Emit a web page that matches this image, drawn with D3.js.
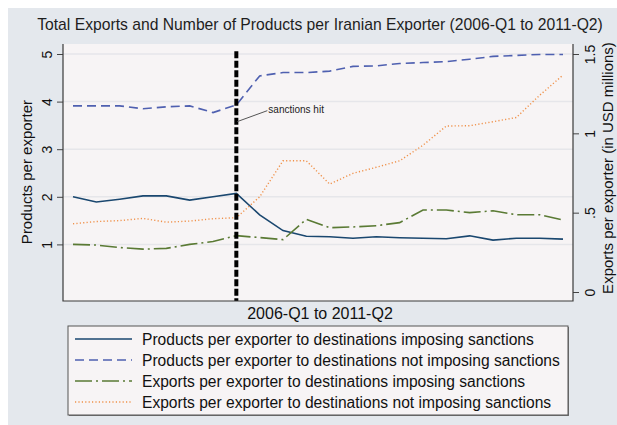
<!DOCTYPE html>
<html>
<head>
<meta charset="utf-8">
<script src="https://cdn.jsdelivr.net/npm/d3@7"></script>
<style>
  html, body { margin: 0; padding: 0; background: #ffffff; }
  svg { display: block; font-family: "Liberation Sans", Arial, sans-serif; }
</style>
</head>
<body>
<svg id="chart" width="617" height="425"></svg>
<script>
// Quarters 2006-Q1 .. 2011-Q2
const quarters = [
  "2006-Q1","2006-Q2","2006-Q3","2006-Q4",
  "2007-Q1","2007-Q2","2007-Q3","2007-Q4",
  "2008-Q1","2008-Q2","2008-Q3","2008-Q4",
  "2009-Q1","2009-Q2","2009-Q3","2009-Q4",
  "2010-Q1","2010-Q2","2010-Q3","2010-Q4",
  "2011-Q1","2011-Q2"
];

// Products per exporter (left axis)
const productsImposing = [2.00, 1.89, 1.95, 2.02, 2.02, 1.93, 2.00, 2.07, 1.62, 1.29, 1.17,
                          1.16, 1.13, 1.16, 1.14, 1.13, 1.12, 1.18, 1.09, 1.13, 1.13, 1.11];
const productsNotImposing = [3.91, 3.91, 3.91, 3.85, 3.89, 3.91, 3.77, 3.93, 4.54, 4.61, 4.61,
                             4.64, 4.74, 4.75, 4.80, 4.82, 4.84, 4.89, 4.95, 4.97, 4.99, 4.99];

// Exports per exporter, USD millions (right axis)
const exportsImposing = [0.300, 0.296, 0.280, 0.270, 0.275, 0.300, 0.318, 0.355, 0.343, 0.330, 0.458,
                         0.405, 0.410, 0.418, 0.437, 0.517, 0.517, 0.500, 0.512, 0.487, 0.487, 0.454];
const exportsNotImposing = [0.430, 0.444, 0.450, 0.464, 0.440, 0.447, 0.462, 0.468, 0.600, 0.827, 0.827,
                            0.680, 0.748, 0.786, 0.827, 0.925, 1.046, 1.048, 1.073, 1.100, 1.240, 1.367];

const leftTicks = [1, 2, 3, 4, 5];
const rightTicks = [0, 0.5, 1, 1.5];
const rightTickLabels = ["0", ".5", "1", "1.5"];
const sanctionsQuarter = "2007-Q4";

const titleText = "Total Exports and Number of Products per Iranian Exporter (2006-Q1 to 2011-Q2)";
const xTitle = "2006-Q1 to 2011-Q2";
const leftTitle = "Products per exporter";
const rightTitle = "Exports per exporter (in USD millions)";
const legendLabels = [
  "Products per exporter to destinations imposing sanctions",
  "Products per exporter to destinations not imposing sanctions",
  "Exports per exporter to destinations imposing sanctions",
  "Exports per exporter to destinations not imposing sanctions"
];

const svg = d3.select("#chart");

// layout
const box = { left: 63, right: 573, top: 44, bottom: 301 };
const x = d3.scalePoint().domain(quarters).range([73, 563]);
const yL = d3.scaleLinear().domain([0, 5]).range([292, 54]);
const yR = d3.scaleLinear().domain([0, 1.5]).range([292, 54]);

// outer graph region
svg.append("rect").attr("x", 8).attr("y", 8).attr("width", 609).attr("height", 417)
  .attr("fill", "#e4e8ed");

// plot region
svg.append("rect").attr("x", box.left).attr("y", box.top)
  .attr("width", box.right - box.left).attr("height", box.bottom - box.top)
  .attr("fill", "#f7f4f5");

// gridlines
svg.append("g").selectAll("line").data(leftTicks).join("line")
  .attr("x1", box.left).attr("x2", box.right)
  .attr("y1", d => yL(d)).attr("y2", d => yL(d))
  .attr("stroke", "#e6e6ea").attr("stroke-width", 1.5);

// series lines
const series = [
  { values: productsImposing, scale: yL, color: "#1a476f", dash: null, width: 1.6 },
  { values: productsNotImposing, scale: yL, color: "#4f60b0", dash: "9,5", width: 1.6 },
  { values: exportsImposing, scale: yR, color: "#5a7a34", dash: "17,4,2,4", width: 1.6 },
  { values: exportsNotImposing, scale: yR, color: "#f0914a", dash: "1.2,2.2", width: 1.4 }
];

series.forEach(s => {
  const line = d3.line().x((d, i) => x(quarters[i])).y(d => s.scale(d));
  svg.append("path").datum(s.values)
    .attr("d", line)
    .attr("fill", "none")
    .attr("stroke", s.color)
    .attr("stroke-width", s.width)
    .attr("stroke-dasharray", s.dash);
});

// sanctions marker
const sx = x(sanctionsQuarter);
svg.append("line")
  .attr("x1", sx).attr("x2", sx)
  .attr("y1", yL(5.06)).attr("y2", box.bottom)
  .attr("stroke", "#000").attr("stroke-width", 4)
  .attr("stroke-dasharray", "7,2.5");

// annotation
svg.append("line")
  .attr("x1", sx + 1).attr("y1", yL(3.58))
  .attr("x2", sx + 31).attr("y2", yL(3.81))
  .attr("stroke", "#555").attr("stroke-width", 1);
svg.append("text")
  .attr("x", sx + 32).attr("y", yL(3.81) + 2)
  .attr("font-size", 10).attr("fill", "#222")
  .text("sanctions hit");

// left axis
const leftAxis = d3.axisLeft(yL).tickValues(leftTicks).tickSize(6).tickFormat(d3.format("d"));
const gL = svg.append("g").attr("transform", `translate(${box.left},0)`).call(leftAxis);
gL.select(".domain").remove();
gL.selectAll(".tick line").attr("stroke", "#444");
gL.selectAll(".tick text")
  .attr("transform", "rotate(-90)")
  .attr("x", 0).attr("dy", 0).attr("y", -11)
  .attr("text-anchor", "middle")
  .attr("font-size", 14).attr("font-family", "Liberation Sans, Arial, sans-serif")
  .attr("fill", "#111");

// right axis
const rightAxis = d3.axisRight(yR).tickValues(rightTicks).tickSize(6)
  .tickFormat((d, i) => rightTickLabels[i]);
const gR = svg.append("g").attr("transform", `translate(${box.right},0)`).call(rightAxis);
gR.select(".domain").remove();
gR.selectAll(".tick line").attr("stroke", "#444");
gR.selectAll(".tick text")
  .attr("transform", "rotate(-90)")
  .attr("x", 0).attr("dy", 0).attr("y", 22)
  .attr("text-anchor", "middle")
  .attr("font-size", 14).attr("font-family", "Liberation Sans, Arial, sans-serif")
  .attr("fill", "#111");

// plot frame (left, right, bottom)
svg.append("path")
  .attr("d", `M${box.left},${box.top}V${box.bottom}H${box.right}V${box.top}`)
  .attr("fill", "none").attr("stroke", "#3a3a3a").attr("stroke-width", 1.2);

// titles
svg.append("text").attr("x", 320).attr("y", 30)
  .attr("text-anchor", "middle").attr("font-size", 15.7).attr("fill", "#1e1e1e")
  .text(titleText);

svg.append("text").attr("x", 320).attr("y", 319)
  .attr("text-anchor", "middle").attr("font-size", 16).attr("fill", "#111")
  .text(xTitle);

svg.append("text")
  .attr("transform", "translate(32,172) rotate(-90)")
  .attr("text-anchor", "middle").attr("font-size", 15).attr("fill", "#111")
  .text(leftTitle);

svg.append("text")
  .attr("transform", "translate(613,168) rotate(-90)")
  .attr("text-anchor", "middle").attr("font-size", 15).attr("fill", "#111")
  .text(rightTitle);

// legend
const lg = svg.append("g");
lg.append("rect").attr("x", 69).attr("y", 327).attr("width", 500).attr("height", 89)
  .attr("fill", "#777");
lg.append("rect").attr("x", 68).attr("y", 326).attr("width", 500).attr("height", 89)
  .attr("fill", "#f7f4f5").attr("stroke", "#555").attr("stroke-width", 1);

const rowY = [339, 360, 381, 402];
series.forEach((s, i) => {
  lg.append("line")
    .attr("x1", 75).attr("x2", 132)
    .attr("y1", rowY[i]).attr("y2", rowY[i])
    .attr("stroke", s.color).attr("stroke-width", s.width)
    .attr("stroke-dasharray", s.dash);
  lg.append("text")
    .attr("x", 142).attr("y", rowY[i] + 5.5)
    .attr("font-size", 15.6).attr("fill", "#111")
    .text(legendLabels[i]);
});
</script>
</body>
</html>
